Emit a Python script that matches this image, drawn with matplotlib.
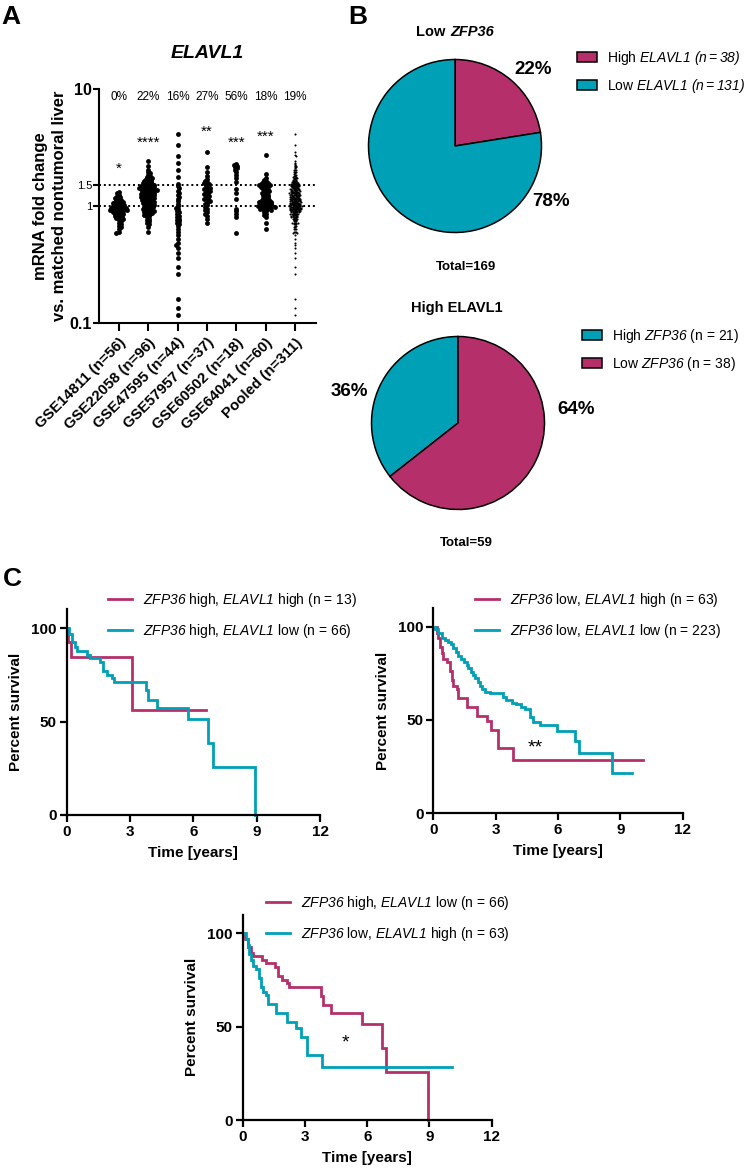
import numpy as np
import matplotlib
matplotlib.use("Agg")
import matplotlib.pyplot as plt
from matplotlib.patches import Patch
from matplotlib.lines import Line2D

plt.rcParams['font.family'] = ['Liberation Sans', 'DejaVu Sans']
plt.rcParams['mathtext.fontset'] = 'custom'
plt.rcParams['mathtext.rm'] = 'Liberation Sans:italic'
plt.rcParams['mathtext.it'] = 'Liberation Sans:italic'
plt.rcParams['mathtext.bf'] = 'Liberation Sans:bold'

MAG = '#B5306B'
TEAL = '#00A0B6'

# ---------------- DATA ----------------
datasets = ['GSE14811 (n=56)', 'GSE22058 (n=96)', 'GSE47595 (n=44)', 'GSE57957 (n=37)',
            'GSE60502 (n=18)', 'GSE64041 (n=60)', 'Pooled (n=311)']
pct_high = ['0%', '22%', '16%', '27%', '56%', '18%', '19%']
stars = ['*', '****', '', '**', '***', '***', '']
star_y = [2.1, 3.45, None, 4.3, 3.45, 3.9, None]

gse14811 = [1.32, 1.28, 1.25, 1.22, 1.2, 1.18, 1.15, 1.13, 1.12, 1.1, 1.09, 1.08, 1.07, 1.06, 1.05,
            1.04, 1.03, 1.02, 1.01, 1.0, 1.0, 0.99, 0.98, 0.97, 0.97, 0.96, 0.95, 0.95, 0.94, 0.93,
            0.93, 0.92, 0.91, 0.9, 0.9, 0.89, 0.88, 0.87, 0.86, 0.85, 0.84, 0.83, 0.82, 0.81, 0.8,
            0.79, 0.78, 0.76, 0.74, 0.72, 0.7, 0.68, 0.66, 0.64, 0.6, 0.59]
gse22058 = [2.43, 2.2, 2.05, 1.95, 1.9, 1.85, 1.8, 1.78, 1.75, 1.72, 1.7, 1.68, 1.65, 1.63, 1.6,
            1.58, 1.57, 1.55, 1.53, 1.52, 1.51,
            1.49, 1.48, 1.47, 1.46, 1.45, 1.44, 1.43, 1.42, 1.41, 1.4, 1.39, 1.38, 1.37, 1.36, 1.35,
            1.34, 1.33, 1.32, 1.31, 1.3, 1.29, 1.28, 1.27, 1.26, 1.25, 1.24, 1.23, 1.22, 1.21, 1.2,
            1.19, 1.18, 1.17, 1.16, 1.15, 1.14, 1.13, 1.12, 1.11, 1.1, 1.09, 1.08, 1.07, 1.06, 1.05,
            1.04, 1.03, 1.02, 1.01, 1.0,
            0.99, 0.98, 0.97, 0.96, 0.95, 0.94, 0.93, 0.92, 0.91, 0.9, 0.89, 0.88, 0.87, 0.86, 0.85,
            0.84, 0.82, 0.8, 0.78, 0.76, 0.74, 0.72, 0.7, 0.66, 0.6]
gse47595 = [4.1, 3.3, 2.7, 2.35, 2.05, 1.78, 1.55, 1.48, 1.42, 1.35, 1.3, 1.25, 1.2, 1.15, 1.1,
            1.05, 1.0, 0.97, 0.94, 0.9, 0.88, 0.85, 0.82, 0.8, 0.78, 0.76, 0.74, 0.72, 0.7, 0.67,
            0.64, 0.6, 0.56, 0.52, 0.48, 0.46, 0.44, 0.4, 0.36, 0.3, 0.26, 0.16, 0.134, 0.117]
gse57957 = [2.9, 2.15, 1.95, 1.8, 1.7, 1.65, 1.6, 1.57, 1.55, 1.52, 1.48, 1.45, 1.42, 1.4, 1.37,
            1.35, 1.32, 1.3, 1.27, 1.25, 1.22, 1.2, 1.17, 1.15, 1.12, 1.1, 1.07, 1.04, 1.01, 0.98,
            0.95, 0.92, 0.88, 0.85, 0.82, 0.78, 0.72]
gse60502 = [2.3, 2.25, 2.2, 2.15, 2.1, 2.05, 1.95, 1.85, 1.75, 1.6, 1.4, 1.3, 1.15, 0.95, 0.9,
            0.85, 0.8, 0.59]
gse64041 = [2.73, 1.88, 1.75, 1.68, 1.63, 1.6, 1.57, 1.55, 1.53, 1.52, 1.51,
            1.49, 1.47, 1.45, 1.43, 1.41, 1.39, 1.37, 1.35, 1.33, 1.31, 1.29, 1.27, 1.25, 1.23, 1.21,
            1.19, 1.17, 1.15, 1.13, 1.12, 1.11, 1.1, 1.09, 1.08, 1.07, 1.06, 1.05, 1.04, 1.03, 1.02,
            1.01, 1.0, 1.0, 1.0,
            0.99, 0.98, 0.97, 0.96, 0.95, 0.94, 0.93, 0.92, 0.9, 0.88, 0.86, 0.83, 0.8, 0.72, 0.63]
groups = [gse14811, gse22058, gse47595, gse57957, gse60502, gse64041]
pooled = sum(groups, [])

pie1_labels = ['High $ELAVL1$ $(n = 38)$', 'Low $ELAVL1$ $(n = 131)$']
pie1_vals = [38, 131]
pie1_pct = ['22%', '78%']
pie2_labels = ['High $ZFP36$ (n = 21)', 'Low $ZFP36$ (n = 38)']
pie2_vals = [21, 38]
pie2_pct = ['36%', '64%']

# Kaplan-Meier step curves (time in years, percent survival)
km_hh_t = [0, 0.08, 0.2, 3.08, 6.59]
km_hh_s = [100, 92.3, 84.6, 56.4, 56.4]
km_hl_t = [0, 0.11, 0.24, 0.39, 0.51, 0.95, 1.1, 1.58, 1.71, 1.9, 2.13, 2.24, 3.76, 3.87, 4.27,
           5.77, 6.71, 6.92, 8.93]
km_hl_s = [100, 97, 92.4, 89.7, 87.6, 85.8, 84, 82, 77, 75, 73.5, 71, 66.6, 61.7, 57.4,
           51.5, 38.5, 25.8, 0]
km_lh_t = [0, 0.16, 0.24, 0.32, 0.4, 0.48, 0.64, 0.8, 0.88, 0.96, 1.12, 1.2, 1.6, 2.12, 2.56,
           2.8, 3.12, 3.84, 10.1]
km_lh_s = [100, 96.8, 93.7, 88.9, 85.7, 82.5, 81, 76.2, 71.4, 68.3, 66.7, 61.9, 57.1, 52.4, 49.2,
           44.4, 34.9, 28.6, 28.6]
km_ll_t = [0, 0.1, 0.24, 0.4, 0.56, 0.72, 0.85, 0.96, 1.07, 1.2, 1.33, 1.49, 1.6, 1.68, 1.81,
           1.92, 2.0, 2.13, 2.24, 2.35, 2.48, 2.72, 3.04, 3.36, 3.52, 3.79, 4.0, 4.24, 4.4, 4.64,
           4.8, 5.12, 5.94, 6.82, 7.01, 8.59, 9.55]
km_ll_s = [100, 98.6, 96.4, 94.1, 92.9, 91.8, 90.5, 88.8, 86.2, 84.4, 82.5, 80.9, 79.5, 77.7, 75.9,
           74.1, 72.3, 70.5, 68.2, 66.4, 65.2, 64.6, 64.3, 62.5, 60.7, 59.3, 58.6, 57.1, 55.7, 51.8,
           49.1, 47.3, 44.0, 39.0, 32.5, 21.4, 21.4]

# ---------------- FIGURE ----------------
W, H = 747, 1174
fig = plt.figure(figsize=(W / 100, H / 100), dpi=100)


def rect(l, t, r, b):
    return [l / W, 1 - b / H, (r - l) / W, (b - t) / H]


def fx(x):
    return x / W


def fy(y):
    return 1 - y / H


def swarm(vals, xc, d_px, xs, ys):
    vals = np.asarray(vals, float)
    order = np.argsort(-vals)
    placed = []
    out = np.zeros(len(vals))
    step = d_px * 0.3
    for n, i in enumerate(order):
        y = ys * np.log10(vals[i])
        near = [p for p in placed if abs(p[1] - y) < d_px]
        signs = [1, -1] if n % 2 == 0 else [-1, 1]
        best = None
        k = 0
        while best is None:
            for sgn in ([0] if k == 0 else signs):
                off = sgn * k * step
                if all((off - px) ** 2 + (y - py) ** 2 >= d_px ** 2 for px, py in near):
                    best = off
                    break
            k += 1
        placed.append((best, y))
        out[i] = xc + best / xs
    return out


# ---- Panel A ----
axA = fig.add_axes(rect(99, 89, 316, 323))
axA.set_yscale('log')
axA.set_ylim(0.1, 10)
axA.set_xlim(-0.68, 6.72)
XS = (316 - 99) / (6.72 + 0.68)
YS = (323 - 89) / 2.0
for i, g in enumerate(groups):
    xs = swarm(g, i, 2.3, XS, YS)
    axA.plot(xs, g, 'o', color='black', markersize=3.5, markeredgewidth=0, zorder=3)
xs = swarm(pooled, 6, 1.1, XS, YS)
axA.plot(xs, pooled, 'o', color='black', markersize=1.5, markeredgewidth=0, zorder=3)
axA.axhline(1.0, color='black', ls=(0, (1, 1.5)), lw=1.4, zorder=2)
axA.axhline(1.5, color='black', ls=(0, (1, 1.5)), lw=1.4, zorder=2)
for sp in ['top', 'right']:
    axA.spines[sp].set_visible(False)
for sp in ['left', 'bottom']:
    axA.spines[sp].set_linewidth(1.5)
axA.yaxis.set_minor_locator(matplotlib.ticker.NullLocator())
axA.set_yticks([0.1, 1, 1.5, 10])
axA.set_yticklabels(['0.1', '1', '1.5', '10'])
for lab, v in zip(axA.get_yticklabels(), [0.1, 1, 1.5, 10]):
    if v in (0.1, 10):
        lab.set_fontsize(11.5)
        lab.set_fontweight('bold')
    else:
        lab.set_fontsize(8)
axA.tick_params(axis='y', length=4, width=1.5, pad=1)
axA.set_xticks(range(7))
axA.set_xticklabels(datasets, rotation=45, ha='right', va='top', rotation_mode='anchor',
                    fontsize=10.8, fontweight='bold')
axA.tick_params(axis='x', length=6, width=1.5, pad=3)
for i, p in enumerate(pct_high):
    axA.text(i, 8.5, p, ha='center', va='center', fontsize=8.5)
for i, (s, yv) in enumerate(zip(stars, star_y)):
    if s:
        axA.text(i, yv, s, ha='center', va='center', fontsize=11)
axA.set_ylabel('mRNA fold change\nvs. matched nontumoral liver', fontsize=12, fontweight='bold',
               labelpad=2, linespacing=1.35)
fig.text(fx(207), fy(53), 'ELAVL1', ha='center', va='center', fontsize=14,
         fontweight='bold', fontstyle='italic')
fig.text(fx(1), fy(17), 'A', ha='left', va='center', fontsize=19, fontweight='bold')
fig.text(fx(348), fy(17), 'B', ha='left', va='center', fontsize=19, fontweight='bold')
fig.text(fx(3), fy(579), 'C', ha='left', va='center', fontsize=19, fontweight='bold')


def rich_center(xc, y, parts, size):
    r = fig.canvas.get_renderer()
    ts = []
    for s, st in parts:
        ts.append(fig.text(0, fy(y), s, fontsize=size, fontweight='bold', fontstyle=st,
                           ha='left', va='center'))
    widths = [t.get_window_extent(r).width for t in ts]
    gap = 0.28 * size * 100 / 72
    total = sum(widths) + gap * (len(ts) - 1)
    x = xc - total / 2
    for t, w in zip(ts, widths):
        t.set_x(fx(x))
        x += w + gap


# ---- Panel B pies ----
R = 86.5
axP1 = fig.add_axes(rect(455 - R, 146 - R, 455 + R, 146 + R))
axP1.pie(pie1_vals, colors=[MAG, TEAL], startangle=90, counterclock=False, radius=1,
         wedgeprops=dict(edgecolor='black', linewidth=1.1))
axP1.set_xlim(-1, 1); axP1.set_ylim(-1, 1); axP1.set_aspect('equal'); axP1.axis('off')
fig.text(fx(533), fy(69), pie1_pct[0], ha='center', va='center', fontsize=13.5, fontweight='bold')
fig.text(fx(551), fy(202), pie1_pct[1], ha='center', va='center', fontsize=13.5, fontweight='bold')
rich_center(455, 32, [('Low', 'normal'), ('ZFP36', 'italic')], 10.5)
fig.text(fx(466), fy(267), 'Total=169', ha='center', va='center', fontsize=9.5, fontweight='bold')
h1 = [Patch(facecolor=c, edgecolor='black', linewidth=1.1) for c in [MAG, TEAL]]
fig.legend(h1, pie1_labels, loc='upper left', bbox_to_anchor=(fx(577), fy(49)), frameon=False,
           fontsize=10, handlelength=1.45, handleheight=0.75, handletextpad=0.7,
           labelspacing=0.72, borderpad=0, borderaxespad=0)

axP2 = fig.add_axes(rect(458 - R, 423 - R, 458 + R, 423 + R))
axP2.pie(pie2_vals, colors=[TEAL, MAG], startangle=90, counterclock=True, radius=1,
         wedgeprops=dict(edgecolor='black', linewidth=1.1))
axP2.set_xlim(-1, 1); axP2.set_ylim(-1, 1); axP2.set_aspect('equal'); axP2.axis('off')
fig.text(fx(349), fy(391), pie2_pct[0], ha='center', va='center', fontsize=13.5, fontweight='bold')
fig.text(fx(576), fy(410), pie2_pct[1], ha='center', va='center', fontsize=13.5, fontweight='bold')
fig.text(fx(457), fy(308), 'High ELAVL1', ha='center', va='center', fontsize=10.5, fontweight='bold')
fig.text(fx(466), fy(543), 'Total=59', ha='center', va='center', fontsize=9.5, fontweight='bold')
h2 = [Patch(facecolor=c, edgecolor='black', linewidth=1.1) for c in [TEAL, MAG]]
fig.legend(h2, pie2_labels, loc='upper left', bbox_to_anchor=(fx(582), fy(327)), frameon=False,
           fontsize=10, handlelength=1.45, handleheight=0.75, handletextpad=0.7,
           labelspacing=0.72, borderpad=0, borderaxespad=0)


# ---- Panel C KM ----
def km_axes(l, t, r, b, curves, labels, leg_xy, note):
    ax = fig.add_axes(rect(l, t, r, b))
    hs = []
    for (tt, ss), c in curves:
        ln, = ax.step(tt, ss, where='post', color=c, lw=2.0, solid_joinstyle='miter')
        ln.set_clip_on(False)
        hs.append(Line2D([], [], color=c, lw=2.0))
    ax.set_xlim(0, 12)
    ax.set_ylim(0, 110)
    ax.set_xticks([0, 3, 6, 9, 12])
    ax.set_yticks([0, 50, 100])
    for sp in ['top', 'right']:
        ax.spines[sp].set_visible(False)
    for sp in ['left', 'bottom']:
        ax.spines[sp].set_linewidth(1.6)
    ax.tick_params(length=5, width=1.6, labelsize=11, pad=2)
    for lab in ax.get_xticklabels() + ax.get_yticklabels():
        lab.set_fontweight('bold')
    ax.set_xlabel('Time [years]', fontsize=11, fontweight='bold', labelpad=5)
    ax.set_ylabel('Percent survival', fontsize=11, fontweight='bold', labelpad=6)
    fig.legend(hs, labels, loc='upper left', bbox_to_anchor=(fx(leg_xy[0]), fy(leg_xy[1])),
               frameon=False, fontsize=10, handlelength=1.75, handletextpad=0.8,
               labelspacing=0.95, borderpad=0, borderaxespad=0)
    if note[2]:
        ax.text(note[0], note[1], note[2], ha='center', va='center', fontsize=14)
    return ax


km_axes(66.7, 609.3, 320, 815,
        [((km_hh_t, km_hh_s), MAG), ((km_hl_t, km_hl_s), TEAL)],
        ['$ZFP36$ high, $ELAVL1$ high (n = 13)',
         '$ZFP36$ high, $ELAVL1$ low (n = 66)'],
        (108, 591), (0, 0, ''))
km_axes(433.3, 608, 682.7, 813.3,
        [((km_lh_t, km_lh_s), MAG), ((km_ll_t, km_ll_s), TEAL)],
        ['$ZFP36$ low, $ELAVL1$ high (n = 63)',
         '$ZFP36$ low, $ELAVL1$ low (n = 223)'],
        (475, 591), (4.9, 35, '**'))
km_axes(242.7, 914.6, 491.7, 1120,
        [((km_hl_t, km_hl_s), MAG), ((km_lh_t, km_lh_s), TEAL)],
        ['$ZFP36$ high, $ELAVL1$ low (n = 66)',
         '$ZFP36$ low, $ELAVL1$ high (n = 63)'],
        (266, 894), (4.93, 41, '*'))

fig.savefig('out.png', dpi=100)
